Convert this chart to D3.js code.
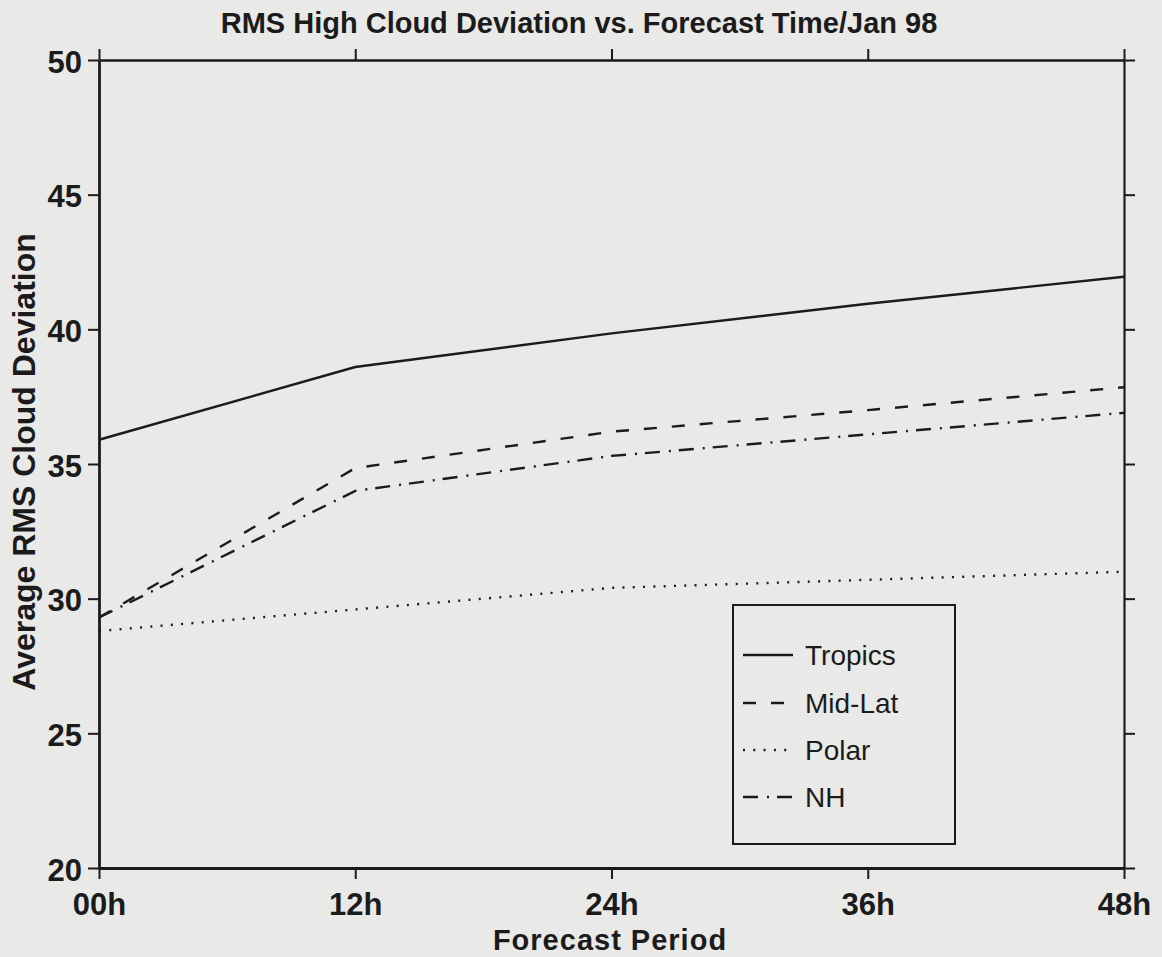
<!DOCTYPE html>
<html>
<head>
<meta charset="utf-8">
<script src="https://cdn.jsdelivr.net/npm/d3@7"></script>
<style>
  html, body { margin: 0; padding: 0; background: #e9eae8; }
  svg { display: block; }
  text { font-family: "Liberation Sans", Arial, Helvetica, sans-serif; fill: #1b1b1b; }
</style>
</head>
<body>
<svg id="chart" width="1162" height="957"></svg>
<script>
// Forecast periods along the x axis
const periods = ["00h", "12h", "24h", "36h", "48h"];

// Average RMS high cloud deviation per region
const tropics = [35.9, 38.6, 39.85, 40.95, 41.95];
const midLat  = [29.3, 34.85, 36.2, 37.0, 37.85];
const polar   = [28.8, 29.6, 30.4, 30.7, 31.0];
const nh      = [29.3, 34.0, 35.3, 36.1, 36.9];

// Y axis tick values
const yTicks = [20, 25, 30, 35, 40, 45, 50];

const seriesNames = ["Tropics", "Mid-Lat", "Polar", "NH"];
const seriesValues = [tropics, midLat, polar, nh];
const seriesDash = ["none", "13,15", "2,8.3", "15,9,2,8"];

const svg = d3.select("#chart");
const ink = "#1b1b1b";

const plot = { left: 99, right: 1124, top: 60, bottom: 868 };

const x = d3.scalePoint().domain(periods).range([plot.left, plot.right]);
const y = d3.scaleLinear().domain([20, 50]).range([plot.bottom, plot.top]);

// Frame axes: ticks point outward on all four sides
function styleAxis(g, width) {
  g.select(".domain").attr("stroke", ink).attr("stroke-width", width);
  g.selectAll(".tick line").attr("stroke", ink).attr("stroke-width", 2);
}

svg.append("g")
  .attr("transform", `translate(0,${plot.top})`)
  .call(d3.axisTop(x).tickSize(11).tickSizeOuter(0).tickFormat(""))
  .call(g => styleAxis(g, 2.5));

svg.append("g")
  .attr("transform", `translate(${plot.right},0)`)
  .call(d3.axisRight(y).tickValues(yTicks).tickSize(11).tickSizeOuter(0).tickFormat(""))
  .call(g => styleAxis(g, 2.2));

const xAxis = svg.append("g")
  .attr("transform", `translate(0,${plot.bottom})`)
  .call(d3.axisBottom(x).tickSize(11).tickSizeOuter(0))
  .call(g => styleAxis(g, 3));
xAxis.selectAll(".tick text")
  .attr("y", 47).attr("dy", null)
  .attr("font-size", 31).attr("font-weight", "bold")
  .attr("font-family", "Liberation Sans, Arial, sans-serif")
  .attr("fill", ink);

const yAxis = svg.append("g")
  .attr("transform", `translate(${plot.left},0)`)
  .call(d3.axisLeft(y).tickValues(yTicks).tickSize(11).tickSizeOuter(0))
  .call(g => styleAxis(g, 2.8));
yAxis.selectAll(".tick text")
  .attr("x", -17).attr("dy", "0.39em")
  .attr("font-size", 31).attr("font-weight", "bold")
  .attr("font-family", "Liberation Sans, Arial, sans-serif")
  .attr("fill", ink);

// Series lines
const line = d3.line()
  .x((d, i) => x(periods[i]))
  .y(d => y(d));

seriesValues.forEach((vals, k) => {
  svg.append("path")
    .datum(vals)
    .attr("d", line)
    .attr("fill", "none")
    .attr("stroke", ink)
    .attr("stroke-width", 2.4)
    .attr("stroke-dasharray", seriesDash[k]);
});

// Title and axis labels
svg.append("text")
  .attr("x", 579).attr("y", 33)
  .attr("text-anchor", "middle")
  .attr("font-size", 29).attr("font-weight", "bold")
  .text("RMS High Cloud Deviation vs. Forecast Time/Jan 98");

svg.append("text")
  .attr("x", 610).attr("y", 950)
  .attr("text-anchor", "middle")
  .attr("font-size", 29).attr("font-weight", "bold")
  .attr("letter-spacing", 1)
  .text("Forecast Period");

svg.append("text")
  .attr("transform", "translate(35,462) rotate(-90)")
  .attr("text-anchor", "middle")
  .attr("font-size", 32).attr("font-weight", "bold")
  .text("Average RMS Cloud Deviation");

// Legend
const legend = svg.append("g");
legend.append("rect")
  .attr("x", 733).attr("y", 605)
  .attr("width", 222).attr("height", 239)
  .attr("fill", "none").attr("stroke", ink).attr("stroke-width", 2);

const legendRows = [655, 703, 750, 797];
seriesNames.forEach((name, k) => {
  legend.append("line")
    .attr("x1", 743).attr("x2", 793)
    .attr("y1", legendRows[k]).attr("y2", legendRows[k])
    .attr("stroke", ink).attr("stroke-width", 2.4)
    .attr("stroke-dasharray", seriesDash[k]);
  legend.append("text")
    .attr("x", 805).attr("y", legendRows[k] + 10)
    .attr("font-size", 28)
    .text(name);
});
</script>
</body>
</html>
